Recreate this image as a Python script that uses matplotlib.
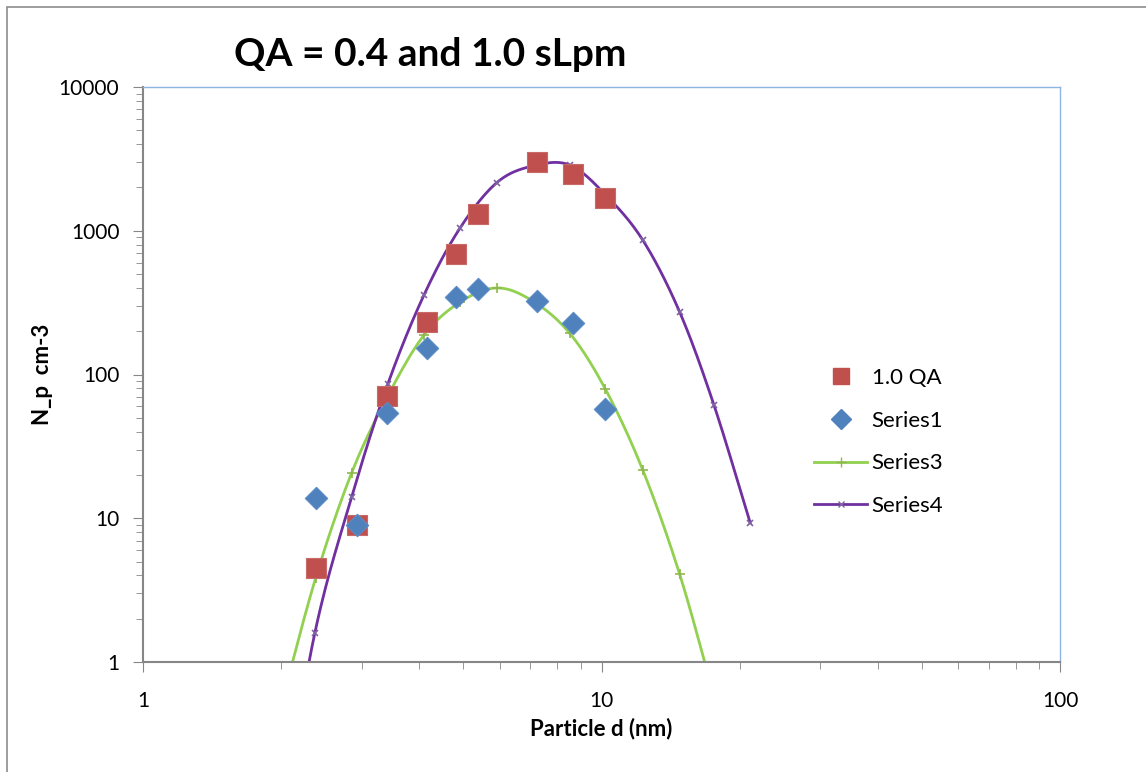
import matplotlib.pyplot as plt
import numpy as np
from matplotlib.lines import Line2D
from matplotlib.patches import Rectangle

plt.rcParams['font.family'] = ['Lato', 'DejaVu Sans']

# measured points (markers only)
d_meas = [2.38, 2.93, 3.40, 4.16, 4.81, 5.37, 7.22, 8.65, 10.2]
qa10 = [4.5, 9.0, 71, 232, 690, 1310, 3010, 2480, 1690]
series1 = [13.8, 9.0, 54, 153, 346, 393, 325, 228, 58]

# fitted curves (lines with markers)
d_fit3 = [2.0, 2.38, 2.85, 3.42, 4.10, 4.91, 5.91, 7.07, 8.52, 10.2, 12.3, 14.8, 17.6]
series3 = [0.5, 3.84, 20.6, 71, 188, 318, 400, 325, 194, 79, 21.7, 4.1, 0.58]
d_fit4 = [2.0, 2.37, 2.85, 3.42, 4.10, 4.91, 5.91, 7.07, 8.52, 10.2, 12.3, 14.8, 17.6, 21.1]
series4 = [0.07, 1.59, 14.0, 86, 357, 1040, 2160, 2820, 2870, 1780, 862, 273, 61, 9.3]


def smooth(xs, ys, n=24):
    # Excel-like smoothed line, drawn in log-log space
    pts = np.column_stack([np.log10(xs), np.log10(ys)])
    p = np.vstack([2 * pts[0] - pts[1], pts, 2 * pts[-1] - pts[-2]])
    t = np.linspace(0, 1, n, endpoint=False)[:, None]
    out = []
    for i in range(1, len(p) - 2):
        p0, p1, p2, p3 = p[i - 1], p[i], p[i + 1], p[i + 2]
        seg = 0.5 * (2 * p1 + (-p0 + p2) * t + (2 * p0 - 5 * p1 + 4 * p2 - p3) * t ** 2
                     + (-p0 + 3 * p1 - 3 * p2 + p3) * t ** 3)
        out.append(seg)
    out.append(p[-2][None, :])
    out = np.vstack(out)
    return 10 ** out[:, 0], 10 ** out[:, 1]


fig = plt.figure(figsize=(11.46, 7.72), dpi=100)
fig.patches.append(Rectangle((7 / 1146, -0.1), 1.2, (772 - 7) / 772 + 0.1, transform=fig.transFigure,
                             fill=False, edgecolor='#8c8c8c', linewidth=1.2))
ax = fig.add_axes([143 / 1146, 110 / 772, 917 / 1146, 575 / 772])

green = '#92D050'
purple = '#7030A0'

sx, sy = smooth(d_fit3, series3)
ax.plot(sx, sy, color=green, lw=2.0, zorder=2)
ax.plot(d_fit3, series3, ls='none', marker='+', ms=7, mew=1.2, color='#8fb74e', zorder=3)
sx, sy = smooth(d_fit4, series4)
ax.plot(sx, sy, color=purple, lw=2.0, zorder=2)
ax.plot(d_fit4, series4, ls='none', marker='x', ms=5, mew=1.2, color='#8064A2', zorder=3)

ax.scatter(d_meas, qa10, marker='s', s=200, color='#C0504D', edgecolor='#c86a67', linewidth=0.8, zorder=4)
ax.scatter(d_meas, series1, marker='D', s=130, color='#4F81BD', edgecolor='#5b8cc8', linewidth=0.8, zorder=5)

ax.set_xscale('log')
ax.set_yscale('log')
ax.set_xlim(1, 100)
ax.set_ylim(1, 10000)
ax.set_xticks([1, 10, 100], ['1', '10', '100'])
ax.set_yticks([1, 10, 100, 1000, 10000], ['1', '10', '100', '1000', '10000'])
ax.tick_params(axis='both', which='major', labelsize=15, direction='out', length=7, color='#868686')
ax.tick_params(axis='x', which='major', pad=14)
ax.tick_params(axis='y', which='major', pad=10)
ax.tick_params(axis='both', which='minor', direction='out', length=5, color='#868686')
ax.yaxis.set_minor_formatter(plt.NullFormatter())
ax.xaxis.set_minor_formatter(plt.NullFormatter())

for side in ['left', 'bottom']:
    ax.spines[side].set_color('#868686')
    ax.spines[side].set_linewidth(1.5)
for side in ['top', 'right']:
    ax.spines[side].set_color('#8EB4E3')
    ax.spines[side].set_linewidth(1.0)

ax.set_xlabel('Particle d (nm)', fontsize=16, fontweight='bold', labelpad=5)
ax.set_ylabel('N_p  cm-3', fontsize=16, fontweight='bold', labelpad=4)
fig.text(430 / 1146, (772 - 55) / 772, 'QA = 0.4 and 1.0 sLpm', fontsize=28, fontweight='bold',
         ha='center', va='center')

handles = [
    Line2D([], [], ls='none', marker='s', ms=12, color='#C0504D'),
    Line2D([], [], ls='none', marker='D', ms=10, color='#4F81BD'),
    Line2D([], [], color=green, lw=2.0, marker='+', ms=7, mec='#8fb74e'),
    Line2D([], [], color=purple, lw=2.0, marker='x', ms=5, mec='#8064A2'),
]
fig.legend(handles, ['1.0 QA', 'Series1', 'Series3', 'Series4'], loc='center left',
           bbox_to_anchor=(794 / 1146, (772 - 442) / 772), frameon=False, fontsize=16,
           handlelength=2.4, handletextpad=0.2, labelspacing=1.02)

fig.savefig('out.png', dpi=100)
